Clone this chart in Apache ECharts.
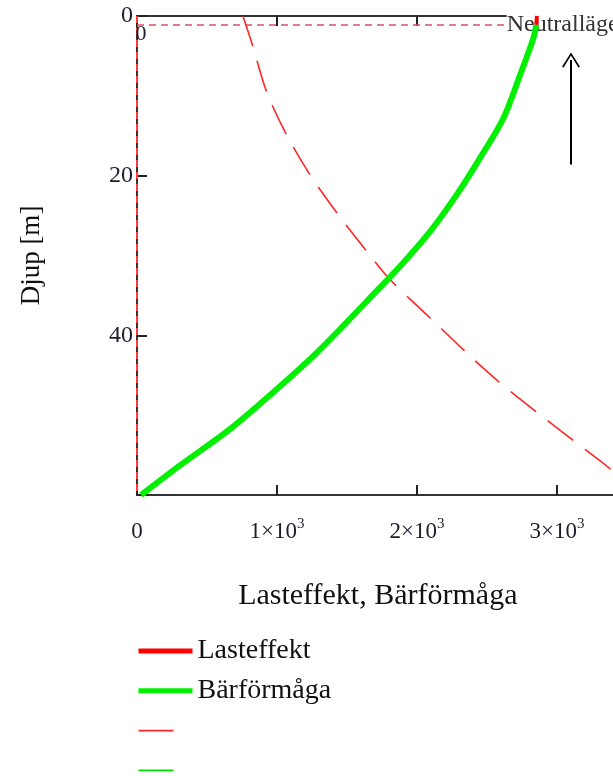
<!DOCTYPE html>
<html>
<head>
<meta charset="utf-8">
<script src="https://cdn.jsdelivr.net/npm/echarts@6/dist/echarts.min.js"></script>
<style>
html,body{margin:0;padding:0;background:#fff;}
#chart{width:613px;height:776px;}
</style>
</head>
<body>
<div id="chart"></div>
<script>
// ---- data ----
const lastDashedDepth = [0, 3.6, 9.5, 14.9, 19.9, 24.9, 29.7, 33, 38.4, 42.4, 46.3, 50.1, 53.8, 57, 60];
const lastDashedValue = [757, 824, 926, 1069, 1236, 1438, 1652, 1807, 2129, 2367, 2617, 2890, 3164, 3400, 3590];
const barDepth = [1.1, 2.8, 7.4, 12.8, 17.8, 22.4, 27, 30.9, 34, 42.2, 46.75, 51.75, 56.3, 60];
const barValue = [2852, 2831, 2736, 2617, 2450, 2283, 2093, 1902, 1736, 1283, 998, 664, 307, 30];
const lastSolidDepth = [0, 1.1];
const lastSolidValue = [2857, 2852];
const neutralDepth = 1.1;
const verticalMarkerValue = 0;
const arrowX = 3100;
const arrowFromDepth = 18.6;
const arrowToDepth = 5.5;
const xMax = 3440;
const xTickValues = [0, 1000, 2000, 3000];
const xTickMantissa = ['0', '1', '2', '3'];
const yTickValues = [0, 20, 40];
const seriesNames = ['Lasteffekt', 'Bärförmåga', 'Lasteffekt (streckad)', 'Bärförmåga (tunn)'];
const legendLabels = ['Lasteffekt', 'Bärförmåga', '\u00a0', '\u00a0'];
const xTitle = 'Lasteffekt, Bärförmåga';
const yTitle = 'Djup [m]';
const neutralLabel = 'Neutralläge';

function pairs(v, d) { return v.map((x, i) => [x, d[i]]); }

const serif = 'Liberation Serif';
const chevron = 'path://M0,15 L9,0 L18,15 L16.4,15.8 L9,3.2 L1.6,15.8 Z';

const chart = echarts.init(document.getElementById('chart'), null, {renderer: 'canvas'});
const option = {
  animation: false,
  backgroundColor: '#fff',
  grid: {left: 137, top: 16, width: 481.6, height: 479, outerBoundsMode: 'none', containLabel: false},
  xAxis: [{
    type: 'value', position: 'bottom', min: 0, max: xMax, interval: 1000,
    splitLine: {show: false},
    axisLine: {show: true, onZero: false, lineStyle: {color: '#333', width: 2}},
    axisTick: {show: true, inside: true, length: 10, lineStyle: {color: '#222', width: 2}},
    axisLabel: {
      show: true, margin: 22, color: '#1c1c2c', fontFamily: serif,
      formatter: function (v) {
        const i = xTickValues.indexOf(v);
        if (i < 0) return '';
        if (v === 0) return '{b|' + xTickMantissa[i] + '}';
        return '{b|' + xTickMantissa[i] + '×10}{s|3}';
      },
      rich: {
        b: {fontSize: 23, fontFamily: serif, color: '#1c1c2c', lineHeight: 26, verticalAlign: 'bottom'},
        s: {fontSize: 15, fontFamily: serif, color: '#1c1c2c', lineHeight: 26, verticalAlign: 'top', padding: [0, 0, 10, 0]}
      }
    },
    name: xTitle, nameLocation: 'middle', nameGap: 86,
    nameTextStyle: {fontFamily: serif, fontSize: 30, color: '#111'}
  }, {
    type: 'value', position: 'top', min: 0, max: xMax, interval: 1000,
    splitLine: {show: false},
    axisLine: {show: true, onZero: false, lineStyle: {color: '#333', width: 2}},
    axisTick: {show: true, inside: true, length: 10, lineStyle: {color: '#222', width: 2}},
    axisLabel: {show: false}
  }],
  yAxis: [{
    type: 'value', inverse: true, min: 0, max: 60, interval: 20,
    splitLine: {show: false},
    axisLine: {show: true, onZero: false, lineStyle: {color: '#333', width: 2}},
    axisTick: {show: true, inside: true, length: 10, lineStyle: {color: '#222', width: 2}},
    axisLabel: {
      show: true, margin: 4, color: '#1c1c2c', fontFamily: serif, fontSize: 24,
      formatter: function (v) { return yTickValues.indexOf(v) >= 0 ? String(v) : ''; }
    },
    name: yTitle, nameLocation: 'middle', nameGap: 92, nameRotate: 90,
    nameTextStyle: {fontFamily: serif, fontSize: 27, color: '#111'}
  }],
  legend: {
    orient: 'vertical', left: 136, top: 637, height: 220, padding: 0,
    itemWidth: 54, itemHeight: 14, itemGap: 11.8,
    textStyle: {fontFamily: serif, fontSize: 28, color: '#111'},
    formatter: function (name) { return legendLabels[seriesNames.indexOf(name)]; },
    selectedMode: false,
    data: [
      {name: seriesNames[0], lineStyle: {width: 5}, itemStyle: {opacity: 0}},
      {name: seriesNames[1], lineStyle: {width: 5}, itemStyle: {opacity: 0}},
      {name: seriesNames[2], lineStyle: {width: 1.6, type: [35, 100]}, itemStyle: {opacity: 0}},
      {name: seriesNames[3], lineStyle: {width: 1.6, type: [35, 100]}, itemStyle: {opacity: 0}}
    ]
  },
  series: [
    {
      name: seriesNames[3], type: 'line', data: pairs(barValue, barDepth),
      showSymbol: false, symbol: 'none', smooth: 0.3,
      lineStyle: {color: '#00e000', width: 1.5}, itemStyle: {color: '#00e000'}, z: 2,
      markPoint: {
        silent: true, animation: false, z: 1,
        symbol: 'rect', symbolSize: 1, itemStyle: {color: 'rgba(0,0,0,0)'},
        data: [
          {coord: [verticalMarkerValue, neutralDepth],
           label: {show: true, position: 'bottom', distance: 0, offset: [4, -2], formatter: String(verticalMarkerValue),
             fontFamily: serif, fontSize: 22, color: '#1c1c2c'}}
        ]
      }
    },
    {
      name: seriesNames[2], type: 'line', data: pairs(lastDashedValue, lastDashedDepth),
      showSymbol: false, symbol: 'none', smooth: 0.3,
      lineStyle: {color: '#ff2626', width: 1.6, type: [32, 15]}, itemStyle: {color: '#ff2626'}, z: 3,
      markLine: {
        silent: true, symbol: ['none', 'none'], animation: false, z: 1,
        data: [
          [{coord: [0, neutralDepth], lineStyle: {color: '#e0505c', width: 1.6, type: [7, 5]},
            label: {show: true, position: 'insideEnd', formatter: neutralLabel, fontFamily: serif, fontSize: 24,
              color: '#333', backgroundColor: '#fff', padding: [0, 0, 0, 0], distance: 0}},
           {coord: [xMax, neutralDepth]}],
          [{coord: [verticalMarkerValue, 0], lineStyle: {color: '#ff3a3a', width: 2, type: [7, 5]}, label: {show: false}},
           {coord: [verticalMarkerValue, 60]}],
          [{coord: [arrowX, arrowFromDepth], symbol: 'none', lineStyle: {color: '#000', width: 2, type: 'solid'}, label: {show: false}},
           {coord: [arrowX, arrowToDepth], symbol: chevron, symbolSize: [18, 15]}]
        ]
      }
    },
    {
      name: seriesNames[1], type: 'line', data: pairs(barValue, barDepth),
      showSymbol: false, symbol: 'none', smooth: 0.3,
      lineStyle: {color: '#00f000', width: 6}, itemStyle: {color: '#00f000'}, z: 4
    },
    {
      name: seriesNames[0], type: 'line', data: pairs(lastSolidValue, lastSolidDepth),
      showSymbol: false, symbol: 'none',
      lineStyle: {color: '#ff0000', width: 4}, itemStyle: {color: '#ff0000'}, z: 5
    }
  ]
};
chart.setOption(option);
</script>
</body>
</html>
